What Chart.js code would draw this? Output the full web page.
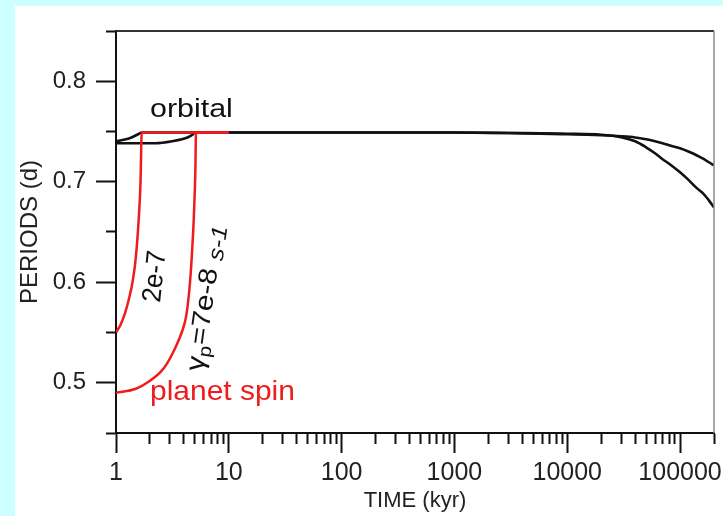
<!DOCTYPE html>
<html>
<head>
<meta charset="utf-8">
<script src="https://cdn.jsdelivr.net/npm/chart.js@4/dist/chart.umd.min.js"></script>
<style>
  html, body { margin: 0; padding: 0; background: #ccffff; }
  #wrap { position: absolute; left: 0; top: 0; width: 723px; height: 516px; }
</style>
</head>
<body>
<div id="wrap"><canvas id="periodChart" width="723" height="516"></canvas></div>
<script>
// planet spin, gamma_p = 2e-7
const spinFastTime = [1.0, 1.1, 1.2, 1.3, 1.41, 1.5, 1.6, 1.65, 1.69, 10];
const spinFastPeriod = [0.550, 0.558, 0.569, 0.583, 0.602, 0.625, 0.668, 0.700, 0.749, 0.749];

// planet spin, gamma_p = 7e-8
const spinSlowTime = [1.0, 1.5, 2.0, 2.5, 2.83, 3.3, 3.85, 4.2, 4.53, 4.75, 4.91, 5.05, 5.12, 10];
const spinSlowPeriod = [0.490, 0.494, 0.502, 0.511, 0.519, 0.533, 0.551, 0.567, 0.600, 0.635, 0.668, 0.710, 0.749, 0.749];

// orbital period, two runs
const orbitATime = [1, 1.2, 1.39, 1.57, 1.7, 100, 1000, 3000, 10000, 15000, 20000, 30000, 40000, 50000, 60000, 70000, 80000, 100000, 120000, 140000, 160000, 180000, 200000];
const orbitAPeriod = [0.7403, 0.742, 0.7443, 0.7473, 0.749, 0.749, 0.749, 0.7485, 0.7473, 0.7468, 0.7463, 0.7453, 0.7441, 0.7423, 0.7403, 0.7383, 0.7363, 0.7333, 0.7298, 0.7264, 0.7229, 0.7194, 0.7164];
const orbitBTime = [1, 2.22, 3.14, 4.35, 4.8, 5.0, 100, 1000, 3000, 10000, 20000, 30000, 40000, 50000, 60000, 70000, 80000, 100000, 120000, 140000, 160000, 180000, 200000];
const orbitBPeriod = [0.7383, 0.7383, 0.7403, 0.7443, 0.747, 0.749, 0.749, 0.749, 0.7485, 0.7478, 0.7468, 0.7443, 0.7403, 0.7343, 0.7283, 0.7224, 0.7179, 0.7094, 0.7014, 0.6939, 0.6885, 0.6815, 0.6745];

// axes
const xDecades = [1, 10, 100, 1000, 10000, 100000];
const xMultiples = [1, 2, 3, 4, 5, 6, 7, 8, 9];
const xEnd = 200000;
const yTickValues = [0.45, 0.5, 0.55, 0.6, 0.65, 0.7, 0.75, 0.8, 0.85];

const toPoints = (xs, ys) => xs.map((x, i) => ({ x: x, y: ys[i] }));

const xTickValues = [];
xDecades.forEach(d => xMultiples.forEach(m => { if (d * m < xEnd) xTickValues.push(d * m); }));
xTickValues.push(xEnd);

const isDecade = v => xDecades.includes(v);
const isTenth = v => Math.abs(v * 10 - Math.round(v * 10)) < 1e-6;

const RED = '#ee1c1c';
const BLACK = '#111111';
const FONT = "'Liberation Sans', Arial, sans-serif";

const lineStyle = (color, width) => ({
    borderColor: color,
    borderWidth: width,
    pointRadius: 0,
    fill: false,
    cubicInterpolationMode: 'monotone'
});

const backdrop = {
    id: 'backdrop',
    beforeDraw(chart) {
        const ctx = chart.ctx;
        ctx.save();
        ctx.fillStyle = '#ccffff';
        ctx.fillRect(0, 0, chart.width, chart.height);
        ctx.fillStyle = '#ffffff';
        ctx.fillRect(15, 6, chart.width - 15, chart.height - 6);
        ctx.restore();
    }
};

// text stretched along its baseline, like the original figure
function wideText(ctx, text, x, y, font, stretch, angle) {
    ctx.save();
    ctx.translate(x, y);
    if (angle) ctx.rotate(angle * Math.PI / 180);
    ctx.scale(stretch, 1);
    ctx.font = font;
    ctx.fillText(text, 0, 0);
    const w = ctx.measureText(text).width * stretch;
    ctx.restore();
    return w;
}

const frameAndNotes = {
    id: 'frameAndNotes',
    afterDatasetsDraw(chart) {
        const ctx = chart.ctx;
        const a = chart.chartArea;
        ctx.save();
        // top and right frame
        ctx.strokeStyle = '#333';
        ctx.lineWidth = 2;
        ctx.beginPath();
        ctx.moveTo(a.left, a.top);
        ctx.lineTo(a.right, a.top);
        ctx.stroke();
        ctx.strokeStyle = '#888';
        ctx.lineWidth = 1.5;
        ctx.beginPath();
        ctx.moveTo(a.right, a.top);
        ctx.lineTo(a.right, a.bottom);
        ctx.stroke();

        ctx.textBaseline = 'alphabetic';
        ctx.fillStyle = '#111';
        wideText(ctx, 'orbital', 150, 117, '26px ' + FONT, 1.17, 0);
        ctx.fillStyle = RED;
        wideText(ctx, 'planet spin', 150, 400, '28px ' + FONT, 1.07, 0);

        ctx.fillStyle = '#111';
        wideText(ctx, '2e-7', 160, 303, '27px ' + FONT, 0.96, -84);

        // gamma_p = 7e-8 s-1, written upwards
        const ang = -82;
        const rad = ang * Math.PI / 180;
        const dir = [Math.cos(rad), Math.sin(rad)];
        const down = [-Math.sin(rad), Math.cos(rad)];
        let px = 203, py = 372, run = 0;
        const put = (txt, font, stretch, drop) => {
            const w = wideText(ctx, txt, px + dir[0] * run + down[0] * drop,
                py + dir[1] * run + down[1] * drop, font, stretch, ang);
            run += w;
        };
        put('\u03b3', '26px ' + FONT, 1.15, 0);
        put('p', '18px ' + FONT, 1.15, 5);
        put('=7e-8 ', '26px ' + FONT, 1.15, 0);
        put('s-1', 'italic 22px ' + FONT, 1.15, 4);
        ctx.restore();
    }
};

new Chart(document.getElementById('periodChart'), {
    type: 'line',
    data: {
        datasets: [
            { label: '2e-7', data: toPoints(spinFastTime, spinFastPeriod), ...lineStyle(RED, 2.5) },
            { label: '7e-8', data: toPoints(spinSlowTime, spinSlowPeriod), ...lineStyle(RED, 2.5) },
            { label: 'orbital A', data: toPoints(orbitATime, orbitAPeriod), ...lineStyle(BLACK, 2.6) },
            { label: 'orbital B', data: toPoints(orbitBTime, orbitBPeriod), ...lineStyle(BLACK, 2.6) }
        ]
    },
    options: {
        responsive: false,
        animation: false,
        events: [],
        layout: { padding: { left: 0, top: 31, right: 9, bottom: 0 } },
        plugins: {
            legend: { display: false },
            tooltip: { enabled: false }
        },
        scales: {
            x: {
                type: 'logarithmic',
                position: 'bottom',
                min: 1,
                max: xEnd,
                afterBuildTicks: s => { s.ticks = xTickValues.map(v => ({ value: v })); },
                afterFit: s => { s.height = 83; },
                ticks: {
                    autoSkip: false,
                    maxRotation: 0,
                    padding: 5,
                    color: '#222',
                    font: { family: FONT, size: 25 },
                    callback: v => isDecade(v) ? String(v) : ''
                },
                grid: {
                    drawOnChartArea: false,
                    tickLength: 20,
                    tickWidth: 2,
                    tickColor: BLACK,
                    tickBorderDash: c => (c.tick && isDecade(c.tick.value)) ? [] : [10, 30]
                },
                border: { color: BLACK, width: 2 },
                title: {
                    display: true,
                    text: 'TIME (kyr)',
                    color: '#222',
                    font: { family: FONT, size: 22 },
                    padding: { top: 0, bottom: 2 }
                }
            },
            y: {
                type: 'linear',
                min: 0.45,
                max: 0.85,
                afterBuildTicks: s => { s.ticks = yTickValues.map(v => ({ value: v })); },
                afterFit: s => { s.width = 116; },
                ticks: {
                    autoSkip: false,
                    padding: 10,
                    color: '#222',
                    font: { family: FONT, size: 24 },
                    callback: v => isTenth(v) ? v.toFixed(1) : ''
                },
                grid: {
                    drawOnChartArea: false,
                    tickLength: 20,
                    tickWidth: 2,
                    tickColor: BLACK,
                    tickBorderDash: c => (c.tick && isTenth(c.tick.value)) ? [] : [0, 10, 10, 0]
                },
                border: { color: BLACK, width: 2 },
                title: {
                    display: true,
                    text: 'PERIODS (d)',
                    color: '#222',
                    font: { family: FONT, size: 24 },
                    padding: { top: 16, bottom: 0 }
                }
            }
        }
    },
    plugins: [backdrop, frameAndNotes]
});
</script>
</body>
</html>
